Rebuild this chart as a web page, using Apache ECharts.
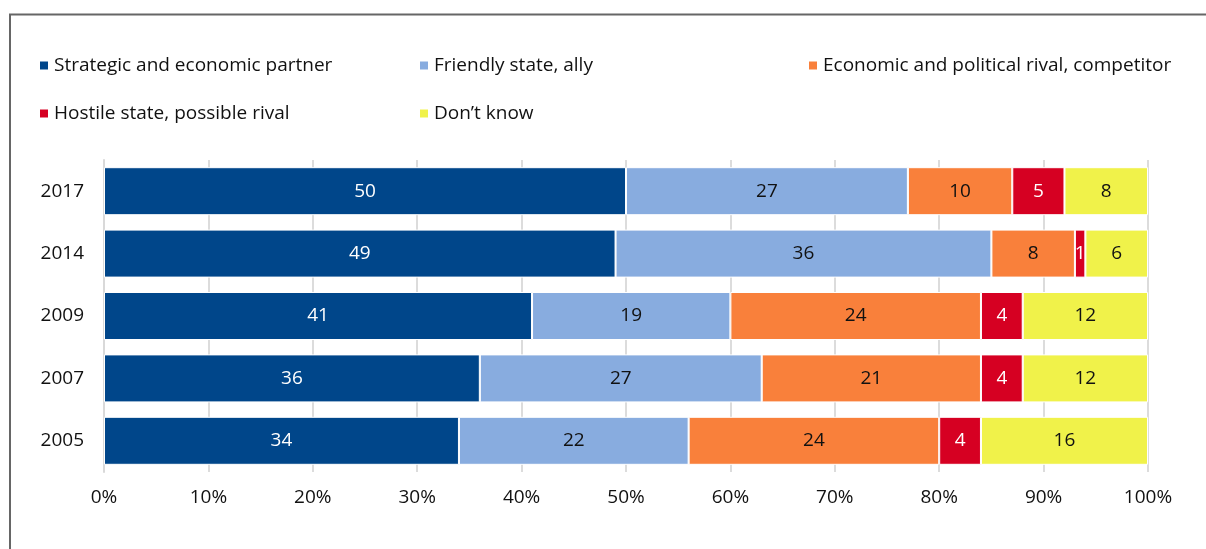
<!DOCTYPE html>
<html>
<head>
<meta charset="utf-8">
<script src="https://cdn.jsdelivr.net/npm/echarts@6/dist/echarts.min.js"></script>
<style>
  html, body { margin: 0; padding: 0; background: #fff; }
  #chart { width: 1206px; height: 549px; }
</style>
</head>
<body>
<div id="chart"></div>
<script>
  var years = ["2017", "2014", "2009", "2007", "2005"];
  var names = [
    "Strategic and economic partner",
    "Friendly state, ally",
    "Economic and political rival, competitor",
    "Hostile state, possible rival",
    "Don\u2019t know"
  ];
  var partner = [50, 49, 41, 36, 34];
  var friendly = [27, 36, 19, 27, 22];
  var rival = [10, 8, 24, 21, 24];
  var hostile = [5, 1, 4, 4, 4];
  var dontKnow = [8, 6, 12, 12, 16];
  var tickLabels = ["0%", "10%", "20%", "30%", "40%", "50%", "60%", "70%", "80%", "90%", "100%"];

  var colors = ["#00468a", "#88acdf", "#f9803b", "#d60022", "#f0f24a"];
  var labelColors = ["#fff", "#111", "#111", "#fff", "#111"];
  var values = [partner, friendly, rival, hostile, dontKnow];
  var font = "'Open Sans', 'Noto Sans', sans-serif";

  var myChart = echarts.init(document.getElementById("chart"));

  // one legend per item so they sit where the original puts them
  var legendPos = [
    { left: 33, top: 51 },
    { left: 413, top: 51 },
    { left: 802, top: 51 },
    { left: 33, top: 99 },
    { left: 413, top: 99 }
  ];
  var legends = names.map(function (n, i) {
    return {
      data: [n],
      left: legendPos[i].left,
      top: legendPos[i].top,
      icon: "rect",
      itemWidth: 10,
      itemHeight: 10,
      itemGap: 6,
      selectedMode: false,
      textStyle: { fontFamily: font, fontSize: 19, color: "#111", padding: [0, 0, 0, 0] }
    };
  });

  var series = names.map(function (n, i) {
    return {
      name: n,
      type: "bar",
      stack: "total",
      barWidth: 48,
      data: values[i],
      itemStyle: { color: colors[i], borderColor: "#fff", borderWidth: 1 },
      label: {
        show: true,
        position: "inside",
        color: labelColors[i],
        fontFamily: font,
        fontSize: 19
      }
    };
  });

  var option = {
    backgroundColor: "#fff",
    animation: false,
    color: colors,
    legend: legends,
    grid: { left: 104, right: 58, top: 160, bottom: 77 },
    graphic: [
      {
        type: "polyline",
        shape: { points: [[10, 549], [10, 14.5], [1206, 14.5]] },
        style: { stroke: "#666", lineWidth: 2, fill: null }
      }
    ],
    xAxis: {
      type: "value",
      min: 0,
      max: 100,
      interval: 10,
      axisLine: { show: false },
      axisTick: { show: false },
      splitLine: { show: true, lineStyle: { color: "#dcdcdc", width: 2 } },
      axisLabel: {
        margin: 16,
        fontFamily: font,
        fontSize: 19,
        color: "#111",
        formatter: function (v) { return tickLabels[v / 10]; }
      }
    },
    yAxis: {
      type: "category",
      inverse: true,
      data: years,
      axisLine: { show: true, lineStyle: { color: "#d9d9d9", width: 2 } },
      axisTick: { show: false },
      axisLabel: { margin: 20, fontFamily: font, fontSize: 19, color: "#111" }
    },
    series: series
  };
  myChart.setOption(option);
</script>
</body>
</html>
